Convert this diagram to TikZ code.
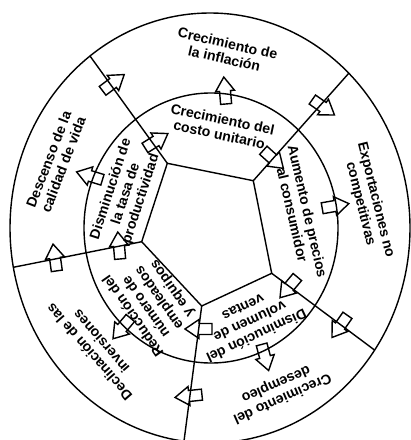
\documentclass[tikz,border=0pt]{standalone}
\usepackage{fontspec}
\setmainfont{Liberation Sans}

\begin{document}
\begin{tikzpicture}[x=0.025cm, y=-0.025cm,
  ring/.style={line width=1pt},
  sector/.style={font=\fontsize{10}{11.2}\selectfont\bfseries, align=center, inner sep=0pt},
  flecha/.pic={\draw[line width=1pt, line join=miter]
    (-13,-5.5) -- (0,-5.5) -- (0,-9.5) -- (14,0) -- (0,9.5) -- (0,5.5) -- (-13,5.5) -- cycle;},
]
\useasboundingbox (0,0) rectangle (411,440);

% anillos
\draw[ring] (210,228) ellipse [x radius=200, y radius=215];
\draw[ring] (211,228) ellipse [x radius=127, y radius=135];

% pentagono central
\coordinate (p1) at (167.3,163.3);
\coordinate (p2) at (253.3,180.7);
\coordinate (p3) at (271.7,273.3);
\coordinate (p4) at (201.7,306);
\coordinate (p5) at (141.7,241.7);
\draw[ring] (p1) -- (p2) -- (p3) -- (p4) -- (p5) -- cycle;

% divisiones hasta el anillo exterior
\coordinate (q1) at (90,56);
\coordinate (q2) at (349,73);
\coordinate (q3) at (374.5,350);
\coordinate (q4) at (184,441);
\coordinate (q5) at (13.3,267.3);
\draw[ring] (p1) -- (q1);
\draw[ring] (p2) -- (q2);
\draw[ring] (p3) -- (q3);
\draw[ring] (p4) -- (q4);
\draw[ring] (p5) -- (q5);

% anillo interior
\node[sector, rotate=-12] (costo) at (221,127) {Crecimiento del\\costo unitario};
\node[sector, rotate=-77] (precios) at (300,213) {Aumento de precios\\al consumidor};
\node[sector, rotate=-155] (ventas) at (250,322) {Disminución del\\volumen de\\ventas};
\node[sector, rotate=125] (empleados) at (153,302) {Reducción del\\número de\\empleados\\y equipos};
\node[sector, rotate=72] (productividad) at (126,194) {Disminución de\\la tasa de\\productividad};

% anillo exterior
\node[sector, rotate=-13] (inflacion) at (226,51) {Crecimiento de\\la inflación};
\node[sector, rotate=-76] (export) at (368,202) {Exportaciones no\\competitivas};
\node[sector, rotate=-156] (desempleo) at (279,391) {Crecimiento del\\desempleo};
\node[sector, rotate=131] (inversiones) at (95,347) {Declinación de las\\inversiones};
\node[sector, rotate=69] (calidad) at (56,162) {Descenso de la\\calidad de vida};

% flechas
\pic[rotate=95] at (225,91) {flecha};
\pic[rotate=37] at (113,83) {flecha};
\pic[rotate=32] at (156,141) {flecha};
\pic[rotate=-35] at (323,107) {flecha};
\pic[rotate=-42] at (273,159) {flecha};
\pic[rotate=10] at (335,206) {flecha};
\pic[rotate=-130] at (289,287) {flecha};
\pic[rotate=-125] at (340,326) {flecha};
\pic[rotate=-75] at (265,357) {flecha};
\pic[rotate=180] at (199,329) {flecha};
\pic[rotate=186] at (189,396) {flecha};
\pic[rotate=-130] at (122,328) {flecha};
\pic[rotate=95] at (119,246) {flecha};
\pic[rotate=98] at (55,258) {flecha};
\pic[rotate=163] at (90,176) {flecha};

\end{tikzpicture}
\end{document}
